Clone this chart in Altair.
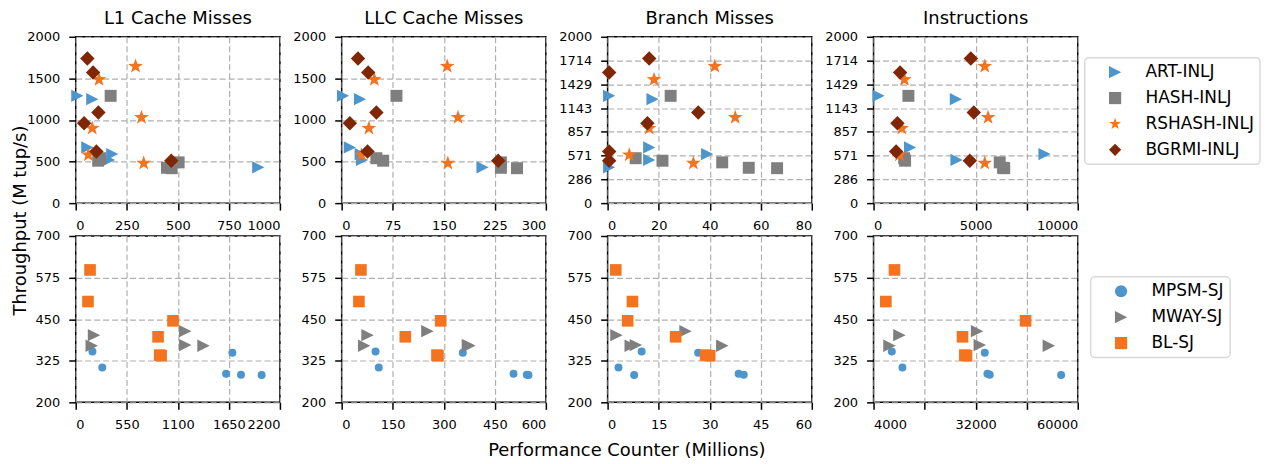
import altair as alt
import pandas as pd
import numpy as np

FONT = "DejaVu Sans"

# ---------------- data ----------------
panel_titles = ["L1 Cache Misses", "LLC Cache Misses", "Branch Misses", "Instructions"]
inlj_series = ["ART-INLJ", "HASH-INLJ", "RSHASH-INLJ", "BGRMI-INLJ"]
sj_series = ["MPSM-SJ", "MWAY-SJ", "BL-SJ"]

# INLJ (top row): throughput and counters (millions)
art_tp = [1290, 1250, 670, 590, 520, 430]
art_l1 = [8, 81, 57, 179, 163, 894]
art_llc = [2, 27, 12, 28, 30, 207]
art_br = [0.6, 17.6, 16.3, 39, 16.3, 0.6]
art_ins = [244, 4033, 1789, 8374, 4065, 6400]

hash_tp = [1290, 540, 510, 490, 425, 420]
hash_l1 = [171, 120, 110, 504, 447, 470]
hash_llc = [80.5, 51, 61, 234, 234, 257.6]
hash_br = [24.7, 11, 21.5, 44.9, 55.3, 66.4]
hash_ins = [1707, 1500, 1545, 6179, 6341, 6400]

rshash_tp = [1645, 1485, 1030, 900, 580, 480]
rshash_l1 = [293, 114, 322, 81, 62, 333]
rshash_llc = [155, 48, 171, 40, 29, 156]
rshash_br = [42, 18.2, 50, 16.3, 8.5, 33.6]
rshash_ins = [5447, 1512, 5610, 1382, 1268, 5447]

bgrmi_tp = [1740, 1570, 1090, 960, 620, 510]
bgrmi_l1 = [57, 85, 111, 41, 101, 468]
bgrmi_llc = [24, 39, 51, 12, 38, 230]
bgrmi_br = [16.3, 0.6, 35.5, 15.6, 0.6, 0.6]
bgrmi_ins = [4764, 1300, 4910, 1170, 1105, 4715]

# SJ (bottom row)
mpsm_tp = [353, 349, 305, 286, 283, 282]
mpsm_l1 = [180, 1688, 286, 1620, 1781, 2003]
mpsm_llc = [99.5, 356, 109, 505, 544, 549]
mpsm_br = [10, 26.6, 3.2, 38.5, 40, 7.8]
mpsm_ins = [9008, 34504, 11922, 35232, 35870, 55447]

mway_tp = [402, 370, 414, 372, 370]
mway_l1 = [197, 172, 1180, 1180, 1377]
mway_llc = [76, 66, 252, 371, 375]
mway_br = [2.6, 6.8, 22.9, 8.3, 33.7]
mway_ins = [11100, 8370, 32400, 33140, 52080]

bl_tp = [598, 503, 445, 397, 342, 340]
bl_l1 = [154, 132, 1048, 887, 905, 920]
bl_llc = [56.6, 50.7, 291, 187, 280, 283]
bl_br = [2.4, 7.3, 5.9, 20, 28.8, 30]
bl_ins = [9737, 7369, 45700, 28400, 29040, 29500]

# axes
top_x_domains = [[0, 1000], [0, 300], [0, 80], [0, 10000]]
top_x_ticks = [[0, 250, 500, 750, 1000], [0, 75, 150, 225, 300], [0, 20, 40, 60, 80],
               [0, 2500, 5000, 7500, 10000]]
top_y_domain = [0, 2000]
top_y_ticks_a = [0, 500, 1000, 1500, 2000]
top_y_ticks_b = [0, 2000 / 7, 4000 / 7, 6000 / 7, 8000 / 7, 10000 / 7, 12000 / 7, 2000]

bot_x_domains = [[0, 2200], [0, 600], [0, 60], [4000, 60000]]
bot_x_ticks = [[0, 550, 1100, 1650, 2200], [0, 150, 300, 450, 600], [0, 15, 30, 45, 60],
               [4000, 18000, 32000, 46000, 60000]]
bot_y_domain = [200, 700]
bot_y_ticks = [200, 325, 450, 575, 700]

# ---------------- styles ----------------
blue, gray, orange, brown = "#4C96CD", "#7F7F7F", "#F4731F", "#7F2704"
tri_right = "M -1 -1 L 1 0 L -1 1 Z"
diamond = "M 0 -1 L 1 0 L 0 1 L -1 0 Z"
_pts = []
for k in range(10):
    ang = np.deg2rad(-90 + 36 * k)
    r = 1.0 if k % 2 == 0 else 0.40
    _pts.append(f"{r*np.cos(ang):.4f} {r*np.sin(ang):.4f}")
star = "M " + " L ".join(_pts) + " Z"

inlj_colors = [blue, gray, orange, brown]
inlj_shapes = [tri_right, "square", star, diamond]
inlj_sizes = [150, 144, 240, 210]
sj_colors = [blue, gray, orange]
sj_shapes = ["circle", tri_right, "square"]
sj_sizes = [64, 156, 136]

W, H = 205, 167


def frame(series_names, tps, xs):
    rows = []
    for name, tp, xv in zip(series_names, tps, xs):
        for t, v in zip(tp, xv):
            rows.append({"series": name, "x": v, "tp": t})
    return pd.DataFrame(rows)


top_frames = [
    frame(inlj_series, [art_tp, hash_tp, rshash_tp, bgrmi_tp],
          [art_l1, hash_l1, rshash_l1, bgrmi_l1]),
    frame(inlj_series, [art_tp, hash_tp, rshash_tp, bgrmi_tp],
          [art_llc, hash_llc, rshash_llc, bgrmi_llc]),
    frame(inlj_series, [art_tp, hash_tp, rshash_tp, bgrmi_tp],
          [art_br, hash_br, rshash_br, bgrmi_br]),
    frame(inlj_series, [art_tp, hash_tp, rshash_tp, bgrmi_tp],
          [art_ins, hash_ins, rshash_ins, bgrmi_ins]),
]
bot_frames = [
    frame(sj_series, [mpsm_tp, mway_tp, bl_tp], [mpsm_l1, mway_l1, bl_l1]),
    frame(sj_series, [mpsm_tp, mway_tp, bl_tp], [mpsm_llc, mway_llc, bl_llc]),
    frame(sj_series, [mpsm_tp, mway_tp, bl_tp], [mpsm_br, mway_br, bl_br]),
    frame(sj_series, [mpsm_tp, mway_tp, bl_tp], [mpsm_ins, mway_ins, bl_ins]),
]


def panel(df, xdom, xticks, ydom, yticks, series, colors, shapes, sizes,
          title=None, legend_xy=None):
    if legend_xy is not None:
        leg = alt.Legend(orient="none", legendX=legend_xy[0], legendY=legend_xy[1], title=None)
    else:
        leg = None
    layers = []
    for name, sz in zip(series, sizes):
        layers.append(
            alt.Chart(df).transform_filter(alt.datum.series == name)
            .mark_point(filled=True, opacity=1, strokeWidth=0, size=sz)
            .encode(
                x=alt.X("x:Q", scale=alt.Scale(domain=xdom, nice=False, zero=False),
                        axis=alt.Axis(values=xticks, format=".0f", title=None)),
                y=alt.Y("tp:Q", scale=alt.Scale(domain=ydom, nice=False, zero=False),
                        axis=alt.Axis(values=yticks, format=".0f", title=None)),
                color=alt.Color("series:N", scale=alt.Scale(domain=series, range=colors),
                                legend=leg),
                shape=alt.Shape("series:N", scale=alt.Scale(domain=series, range=shapes),
                                legend=leg),
            )
        )
    props = dict(width=W, height=H)
    if title is not None:
        props["title"] = alt.TitleParams(title, fontSize=18, font=FONT, fontWeight="normal",
                                         offset=3)
    return alt.layer(*layers).properties(**props)


panels = []
for i in range(4):
    panels.append(panel(
        top_frames[i], top_x_domains[i], top_x_ticks[i], top_y_domain,
        top_y_ticks_a if i < 2 else top_y_ticks_b,
        inlj_series, inlj_colors, inlj_shapes, inlj_sizes,
        title=panel_titles[i], legend_xy=(212, 21) if i == 3 else None))
for i in range(4):
    panels.append(panel(
        bot_frames[i], bot_x_domains[i], bot_x_ticks[i], bot_y_domain, bot_y_ticks,
        sj_series, sj_colors, sj_shapes, sj_sizes,
        legend_xy=(218, 41) if i == 3 else None))

grid = alt.concat(*panels, columns=4, spacing=alt.RowColnumber(row=33, column=62),
                  bounds="flush").resolve_scale(
    color="independent", shape="independent",
    x="independent", y="independent").properties(
    title=alt.TitleParams("Throughput (M tup/s)", orient="left", anchor="middle",
                          fontSize=18, font=FONT, fontWeight="normal", offset=-4))

chart = alt.hconcat(grid).resolve_scale(
    color="independent", shape="independent").properties(
    title=alt.TitleParams("Performance Counter (Millions)", orient="bottom", anchor="middle",
                          fontSize=18, font=FONT, fontWeight="normal", offset=10, dx=-10),
    padding={"top": 0, "left": 4, "right": 0, "bottom": 0}
).configure_view(
    stroke="black", strokeWidth=1.5
).configure_axis(
    domain=False, labelFont=FONT, labelFontSize=13, labelColor="black",
    tickColor="black", tickSize=7, tickWidth=1.5, labelPadding=9,
    grid=True, gridColor="#b0b0b0", gridDash=[6, 3], gridWidth=1.2
).configure_legend(
    labelFont=FONT, labelFontSize=17, labelColor="black", symbolSize=150,
    strokeColor="#d9d9d9", strokeWidth=1.5, cornerRadius=4, padding=6, rowPadding=8,
    labelOffset=22, symbolOffset=16, fillColor="white", symbolStrokeWidth=0
).configure_title(
    font=FONT, color="black"
)

chart.save("out.html", embed_options={"renderer": "svg", "actions": False})
